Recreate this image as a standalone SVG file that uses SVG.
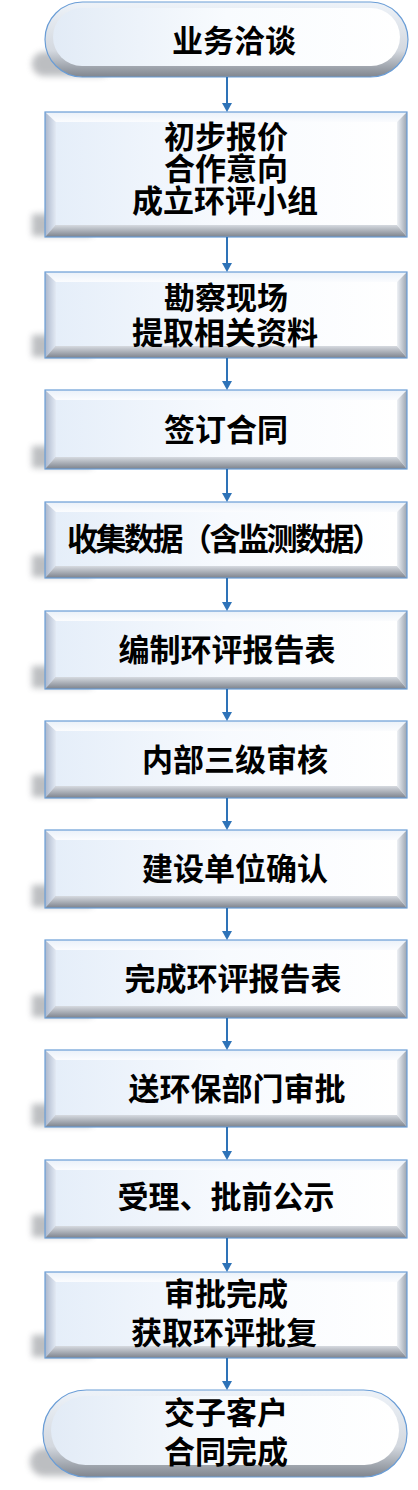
<svg xmlns="http://www.w3.org/2000/svg" width="418" height="1490" viewBox="0 0 418 1490">
<style>
.t{font-family:"Noto Sans CJK SC","Noto Sans CJK JP",sans-serif;font-size:31px;font-weight:700;fill:#000;text-anchor:middle}
.bt{fill:url(#gTop)}
.bl{fill:url(#gLeft)}
.br{fill:url(#gRight)}
.bb{fill:url(#gBottom)}
.face{fill:url(#gFace)}
.edge{fill:none;stroke:#6a9dd6;stroke-width:1.2}
.sh{fill:#5a5e66;opacity:.4;filter:url(#blur)}
.pillOut{fill:url(#gPill)}
.con{stroke:#2e73b8;stroke-width:2;fill:none;marker-end:url(#arr)}
</style>
<defs>
<linearGradient id="gFace" x1="0" y1="0" x2="1" y2="0"><stop offset="0" stop-color="#e5eef9"/><stop offset="0.5" stop-color="#f7fafe"/><stop offset="1" stop-color="#ffffff"/></linearGradient>
<linearGradient id="gTop" x1="0" y1="0" x2="0" y2="1"><stop offset="0" stop-color="#eaf1f9"/><stop offset="1" stop-color="#fbfcfe"/></linearGradient>
<linearGradient id="gLeft" x1="0" y1="0" x2="1" y2="0"><stop offset="0" stop-color="#aab6cb"/><stop offset="1" stop-color="#e3eaf4"/></linearGradient>
<linearGradient id="gRight" x1="0" y1="0" x2="1" y2="0"><stop offset="0" stop-color="#eef1f5"/><stop offset="1" stop-color="#9aa3b0"/></linearGradient>
<linearGradient id="gBottom" x1="0" y1="0" x2="0" y2="1"><stop offset="0" stop-color="#d6dae0"/><stop offset="1" stop-color="#7c828c"/></linearGradient>
<linearGradient id="gPill" x1="0" y1="0" x2="0" y2="1"><stop offset="0" stop-color="#eef3f9"/><stop offset="0.65" stop-color="#d3d8df"/><stop offset="1" stop-color="#80868f"/></linearGradient>
<linearGradient id="gPillFace" x1="0" y1="0" x2="1" y2="0"><stop offset="0" stop-color="#e2ebf6"/><stop offset="0.5" stop-color="#f8fbfe"/><stop offset="1" stop-color="#ffffff"/></linearGradient>
<filter id="blur" x="-50%" y="-50%" width="200%" height="200%"><feGaussianBlur stdDeviation="3"/></filter>
<marker id="arr" viewBox="0 0 9 10" markerWidth="9" markerHeight="10" refX="0" refY="5" orient="auto" markerUnits="userSpaceOnUse"><path d="M0,0 L9,5 L0,10 z" fill="#2e73b8"/></marker>
</defs>

<g id="n0">
<rect class="sh" x="32" y="52" width="80" height="24" rx="12"/>
<rect class="pillOut" x="45" y="2" width="363" height="75" rx="37.5"/>
<rect x="53" y="8" width="347" height="58" rx="29" fill="url(#gPillFace)"/>
<rect class="edge" x="45" y="2" width="363" height="75" rx="37.5"/>
<text class="t" x="234" y="52">业务洽谈</text>
</g>

<g id="n1">
<rect class="sh" x="32" y="214" width="60" height="22"/>
<polygon class="bt" points="45,112 407,112 397,122 56,122"/>
<polygon class="bl" points="45,112 56,122 56,225 45,237"/>
<polygon class="br" points="407,112 407,237 397,225 397,122"/>
<polygon class="bb" points="45,237 56,225 397,225 407,237"/>
<rect class="face" x="56" y="122" width="341" height="103"/>
<rect class="edge" x="45" y="112" width="362" height="125"/>
<text class="t" x="226" y="148">初步报价</text>
<text class="t" x="226" y="180">合作意向</text>
<text class="t" x="225" y="212">成立环评小组</text>
</g>

<g id="n2">
<rect class="sh" x="32" y="335" width="60" height="22"/>
<polygon class="bt" points="45,272 407,272 397,282 56,282"/>
<polygon class="bl" points="45,272 56,282 56,346 45,358"/>
<polygon class="br" points="407,272 407,358 397,346 397,282"/>
<polygon class="bb" points="45,358 56,346 397,346 407,358"/>
<rect class="face" x="56" y="282" width="341" height="64"/>
<rect class="edge" x="45" y="272" width="362" height="86"/>
<text class="t" x="226" y="309">勘察现场</text>
<text class="t" x="225" y="344">提取相关资料</text>
</g>

<g id="n3">
<rect class="sh" x="32" y="446" width="60" height="22"/>
<polygon class="bt" points="45,390 407,390 397,400 56,400"/>
<polygon class="bl" points="45,390 56,400 56,457 45,469"/>
<polygon class="br" points="407,390 407,469 397,457 397,400"/>
<polygon class="bb" points="45,469 56,457 397,457 407,469"/>
<rect class="face" x="56" y="400" width="341" height="57"/>
<rect class="edge" x="45" y="390" width="362" height="79"/>
<text class="t" x="226" y="441">签订合同</text>
</g>

<g id="n4">
<rect class="sh" x="32" y="555" width="60" height="22"/>
<polygon class="bt" points="45,502 407,502 397,512 56,512"/>
<polygon class="bl" points="45,502 56,512 56,566 45,578"/>
<polygon class="br" points="407,502 407,578 397,566 397,512"/>
<polygon class="bb" points="45,578 56,566 397,566 407,578"/>
<rect class="face" x="56" y="512" width="341" height="54"/>
<rect class="edge" x="45" y="502" width="362" height="76"/>
<text class="t" x="225" y="550" textLength="316" lengthAdjust="spacing">收集数据（含监测数据）</text>
</g>

<g id="n5">
<rect class="sh" x="32" y="666" width="60" height="22"/>
<polygon class="bt" points="45,611 407,611 397,621 56,621"/>
<polygon class="bl" points="45,611 56,621 56,677 45,689"/>
<polygon class="br" points="407,611 407,689 397,677 397,621"/>
<polygon class="bb" points="45,689 56,677 397,677 407,689"/>
<rect class="face" x="56" y="621" width="341" height="56"/>
<rect class="edge" x="45" y="611" width="362" height="78"/>
<text class="t" x="227" y="661">编制环评报告表</text>
</g>

<g id="n6">
<rect class="sh" x="32" y="775" width="60" height="22"/>
<polygon class="bt" points="45,721 407,721 397,731 56,731"/>
<polygon class="bl" points="45,721 56,731 56,786 45,798"/>
<polygon class="br" points="407,721 407,798 397,786 397,731"/>
<polygon class="bb" points="45,798 56,786 397,786 407,798"/>
<rect class="face" x="56" y="731" width="341" height="55"/>
<rect class="edge" x="45" y="721" width="362" height="77"/>
<text class="t" x="235" y="771">内部三级审核</text>
</g>

<g id="n7">
<rect class="sh" x="32" y="885" width="60" height="22"/>
<polygon class="bt" points="45,830 407,830 397,840 56,840"/>
<polygon class="bl" points="45,830 56,840 56,896 45,908"/>
<polygon class="br" points="407,830 407,908 397,896 397,840"/>
<polygon class="bb" points="45,908 56,896 397,896 407,908"/>
<rect class="face" x="56" y="840" width="341" height="56"/>
<rect class="edge" x="45" y="830" width="362" height="78"/>
<text class="t" x="235" y="880">建设单位确认</text>
</g>

<g id="n8">
<rect class="sh" x="32" y="995" width="60" height="22"/>
<polygon class="bt" points="45,940 407,940 397,950 56,950"/>
<polygon class="bl" points="45,940 56,950 56,1006 45,1018"/>
<polygon class="br" points="407,940 407,1018 397,1006 397,950"/>
<polygon class="bb" points="45,1018 56,1006 397,1006 407,1018"/>
<rect class="face" x="56" y="950" width="341" height="56"/>
<rect class="edge" x="45" y="940" width="362" height="78"/>
<text class="t" x="233" y="990">完成环评报告表</text>
</g>

<g id="n9">
<rect class="sh" x="32" y="1104" width="60" height="22"/>
<polygon class="bt" points="45,1050 407,1050 397,1060 56,1060"/>
<polygon class="bl" points="45,1050 56,1060 56,1115 45,1127"/>
<polygon class="br" points="407,1050 407,1127 397,1115 397,1060"/>
<polygon class="bb" points="45,1127 56,1115 397,1115 407,1127"/>
<rect class="face" x="56" y="1060" width="341" height="55"/>
<rect class="edge" x="45" y="1050" width="362" height="77"/>
<text class="t" x="237" y="1100">送环保部门审批</text>
</g>

<g id="n10">
<rect class="sh" x="32" y="1215" width="60" height="22"/>
<polygon class="bt" points="45,1160 407,1160 397,1170 56,1170"/>
<polygon class="bl" points="45,1160 56,1170 56,1226 45,1238"/>
<polygon class="br" points="407,1160 407,1238 397,1226 397,1170"/>
<polygon class="bb" points="45,1238 56,1226 397,1226 407,1238"/>
<rect class="face" x="56" y="1170" width="341" height="56"/>
<rect class="edge" x="45" y="1160" width="362" height="78"/>
<text class="t" x="226" y="1208">受理、批前公示</text>
</g>

<g id="n11">
<rect class="sh" x="32" y="1335" width="60" height="22"/>
<polygon class="bt" points="45,1272 407,1272 397,1282 56,1282"/>
<polygon class="bl" points="45,1272 56,1282 56,1346 45,1358"/>
<polygon class="br" points="407,1272 407,1358 397,1346 397,1282"/>
<polygon class="bb" points="45,1358 56,1346 397,1346 407,1358"/>
<rect class="face" x="56" y="1282" width="341" height="64"/>
<rect class="edge" x="45" y="1272" width="362" height="86"/>
<text class="t" x="226" y="1305">审批完成</text>
<text class="t" x="224" y="1344">获取环评批复</text>
</g>

<g id="n12">
<rect class="sh" x="30" y="1448" width="80" height="28" rx="14"/>
<rect class="pillOut" x="43" y="1390" width="364" height="87" rx="43.5"/>
<rect x="51" y="1396" width="348" height="69" rx="34.5" fill="url(#gPillFace)"/>
<rect class="edge" x="43" y="1390" width="364" height="87" rx="43.5"/>
<text class="t" x="226" y="1424">交子客户</text>
<text class="t" x="226" y="1463">合同完成</text>
</g>

<g id="connectors">
<path class="con" d="M227,77 V103"/>
<path class="con" d="M227,237 V263"/>
<path class="con" d="M227,358 V381"/>
<path class="con" d="M227,469 V493"/>
<path class="con" d="M227,578 V602"/>
<path class="con" d="M227,689 V712"/>
<path class="con" d="M227,798 V821"/>
<path class="con" d="M227,908 V931"/>
<path class="con" d="M227,1018 V1041"/>
<path class="con" d="M227,1127 V1151"/>
<path class="con" d="M227,1238 V1263"/>
<path class="con" d="M227,1358 V1381"/>
</g>
</svg>
